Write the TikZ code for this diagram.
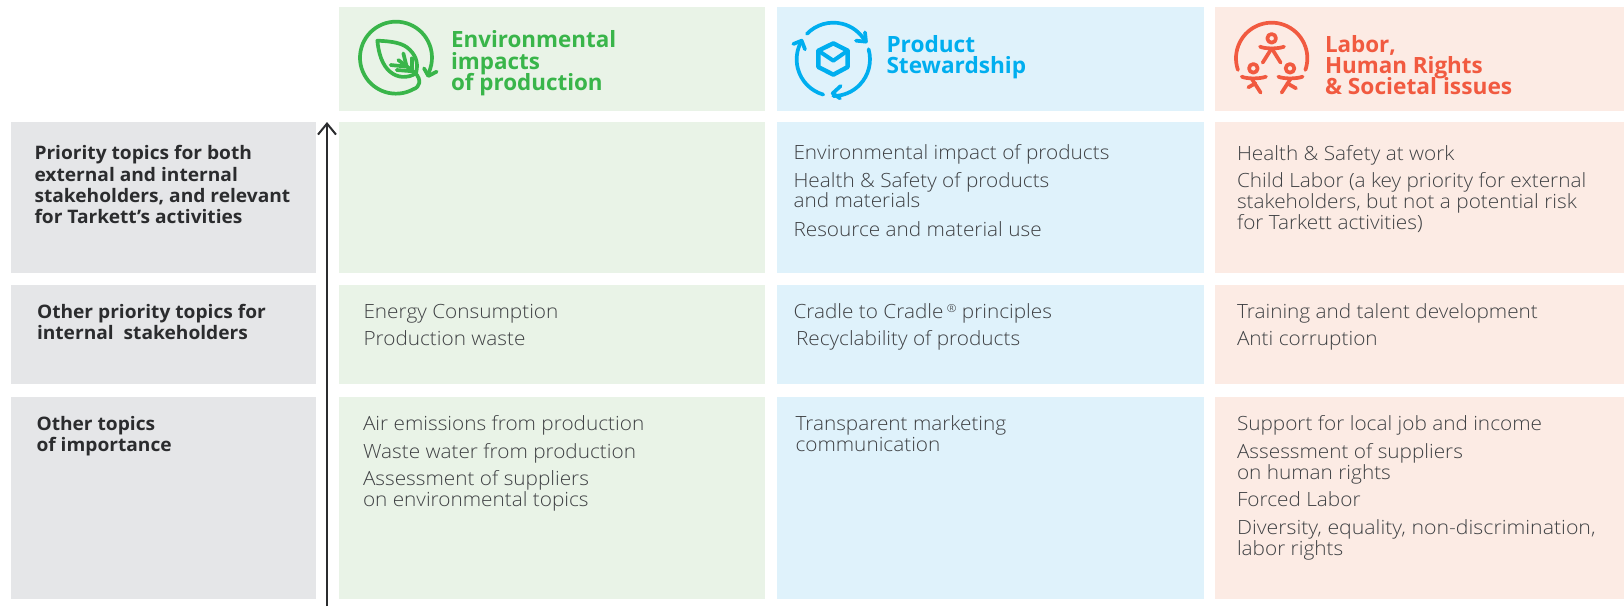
\documentclass[tikz,border=0pt]{standalone}
\usepackage{fontspec}
\usetikzlibrary{arrows.meta}
\setmainfont{Open Sans}[UprightFont=* Light,UprightFeatures={FakeStretch=1.06},BoldFont=* Bold,BoldFeatures={FakeStretch=1.03}]
\newfontfamily\headfont{Open Sans}[UprightFont=* Bold]
\definecolor{pgreen}{HTML}{E9F3E7}
\definecolor{pblue}{HTML}{DFF2FB}
\definecolor{pred}{HTML}{FCEBE4}
\definecolor{pgray}{HTML}{E5E6E8}
\definecolor{cgreen}{HTML}{39B54A}
\definecolor{cblue}{HTML}{00AEEF}
\definecolor{cred}{HTML}{F15A40}
\definecolor{ctext}{HTML}{3F4144}
\definecolor{cdark}{HTML}{2B2C2E}
\tikzset{
  panel/.style={fill=#1,draw=none},
  body/.style={anchor=base west,inner sep=0pt,outer sep=0pt,text=ctext,font=\fontsize{19.6}{22}\selectfont},
  rowlabel/.style={anchor=base west,inner sep=0pt,outer sep=0pt,text=cdark,font=\fontsize{18.6}{22}\selectfont\bfseries},
  head/.style={anchor=base west,inner sep=0pt,outer sep=0pt,text=#1,font=\fontsize{22.4}{24}\headfont},
  icon/.style={draw=#1,line width=3.7pt,line cap=round,line join=round,fill=none}
}
\newcommand{\pnl}[6]{\fill[panel=#2] (#3,#4) rectangle (#5,#6) node[inner sep=0pt,pos=.5] (#1) {};}
\newcommand{\bt}[4]{\node[body] (#1) at (#2,#3) {#4};}
\newcommand{\rl}[4]{\node[rowlabel] (#1) at (#2,#3) {#4};}
\begin{document}
\begin{tikzpicture}[x=1pt,y=-1pt]
\useasboundingbox (0,0) rectangle (1624,606);
% panels
\pnl{hg}{pgreen}{339}{7}{765}{111}
\pnl{hb}{pblue}{777}{7}{1203.5}{111}
\pnl{hr}{pred}{1215}{7}{1624}{111}
\pnl{l1}{pgray}{11}{122}{316}{273}
\pnl{l2}{pgray}{11}{285}{316}{384}
\pnl{l3}{pgray}{11}{397}{316}{599}
\pnl{g1}{pgreen}{339}{122}{765}{273}
\pnl{g2}{pgreen}{339}{285}{765}{384}
\pnl{g3}{pgreen}{339}{397}{765}{599}
\pnl{b1}{pblue}{777}{122}{1203.5}{273}
\pnl{b2}{pblue}{777}{285}{1203.5}{384}
\pnl{b3}{pblue}{777}{397}{1203.5}{599}
\pnl{r1}{pred}{1215}{122}{1624}{273}
\pnl{r2}{pred}{1215}{285}{1624}{384}
\pnl{r3}{pred}{1215}{397}{1624}{599}
% axis
\coordinate (axbot) at (327,606);
\coordinate (axtop) at (327,122);
\draw[line width=2pt,cdark,-{Straight Barb[length=11pt,width=18pt]}] (axbot) -- (axtop);
% headers
\node[head=cgreen] (h1a) at (451,47) {Environmental};
\node[head=cgreen] (h1b) at (451,69) {impacts};
\node[head=cgreen] (h1c) at (451,90) {of production};
\node[head=cblue] (h2a) at (886.5,52) {\scalebox{1.01}[1]{Product}};
\node[head=cblue] (h2b) at (886.5,73) {\scalebox{1.01}[1]{Stewardship}};
\node[head=cred] (h3a) at (1325,52) {Labor,};
\node[head=cred] (h3b) at (1325,73) {Human Rights};
\node[head=cred] (h3c) at (1325,94) {\scalebox{1.015}[1]{\& Societal issues}};
% green icon
\begin{scope}[shift={(320,0)},x=.3333pt,y=-.3333pt]
\draw[icon=cgreen] (228,173) ++(62:108) arc[start angle=62,end angle=385,radius=108];
\draw[icon=cgreen] (312,205) -- (325,228) -- (350,215);
\draw[icon=cgreen] (279,268) .. controls (300,262) and (306,240) .. (285,218) -- (235,180);
\draw[icon=cgreen] (288,220)
  .. controls (262,236) and (232,234) .. (210,215)
  .. controls (186,195) and (176,160) .. (172,122)
  .. controls (215,124) and (250,128) .. (270,150)
  .. controls (292,172) and (294,195) .. (288,220);
\draw[icon=cgreen] (250,160) -- (260,200);
\draw[icon=cgreen] (275,175) -- (275,205);
\draw[icon=cgreen] (212,195) -- (260,200);
\draw[icon=cgreen] (230,210) -- (280,214);
\end{scope}
% blue icon
\begin{scope}[shift={(750,0)},x=.3333pt,y=-.3333pt]
\draw[icon=cblue] (250,178) ++(224:110) arc[start angle=224,end angle=330,radius=110];
\draw[icon=cblue] (318,122) -- (348,125) -- (345,97);
\draw[icon=cblue] (250,178) ++(344:110) arc[start angle=344,end angle=450,radius=110];
\draw[icon=cblue] (272,258) -- (248,280) -- (270,295);
\draw[icon=cblue] (250,178) ++(106:110) arc[start angle=106,end angle=209,radius=110];
\draw[icon=cblue] (130,132) -- (155,122) -- (165,148);
\draw[icon=cblue,line width=4.4pt] (250,130) -- (293,152) -- (293,201) -- (250,224) -- (205,201) -- (205,152) -- cycle;
\draw[icon=cblue,line width=4pt] (205,152) -- (250,182) -- (293,152);
\end{scope}
% red icon
\begin{scope}[shift={(1170,0)},x=.3333pt,y=-.3333pt]
\draw[icon=cred] (305,175) ++(161:107) arc[start angle=161,end angle=379,radius=107];
\draw[icon=cred] (305,115) circle[radius=13];
\draw[icon=cred] (270,140) .. controls (285,147) and (325,147) .. (342,140);
\draw[icon=cred] (305,145) -- (278,188);
\draw[icon=cred] (305,145) -- (332,188);
\draw[icon=cred] (250,205) circle[radius=13];
\draw[icon=cred] (215,230) .. controls (230,237) and (270,237) .. (288,230);
\draw[icon=cred] (245,236) -- (272,278);
\draw[icon=cred] (256,250) -- (235,262);
\draw[icon=cred] (360,205) circle[radius=13];
\draw[icon=cred] (325,230) .. controls (340,237) and (380,237) .. (398,230);
\draw[icon=cred] (362,236) -- (335,278);
\draw[icon=cred] (352,250) -- (378,265);
\end{scope}
% row labels
\rl{la}{34.5}{159}{Priority topics for both}
\rl{lb}{34.5}{181}{external and internal}
\rl{lc}{34.5}{202}{stakeholders, and relevant}
\rl{ld}{34.5}{223}{for Tarkett’s activities}
\rl{le}{37}{318}{Other priority topics for}
\rl{lf}{37}{339}{internal\ \ stakeholders}
\rl{lg}{36.5}{430}{Other topics}
\rl{lh}{36.5}{451}{of importance}
% green
\bt{ga}{363.5}{318}{Energy Consumption}
\bt{gb}{363.5}{345}{Production waste}
\bt{gc}{363}{430}{Air emissions from production}
\bt{gd}{363}{458}{Waste water from production}
\bt{ge}{363}{485}{Assessment of suppliers}
\bt{gf}{363}{506}{on environmental topics}
% blue
\bt{ba}{793.5}{159}{Environmental impact of products}
\bt{bb}{793.5}{187}{Health \& Safety of products}
\bt{bc}{793.5}{207.5}{and materials}
\bt{bd}{793.5}{236}{Resource and material use}
\bt{be}{793.5}{318}{Cradle to Cradle\,\raisebox{.55ex}{\fontsize{11}{12}\selectfont ®} principles}
\bt{bf}{796}{345}{Recyclability of products}
\bt{bg}{795.5}{430}{Transparent marketing}
\bt{bh}{795.5}{451}{communication}
% red
\bt{ra}{1237}{160}{Health \& Safety at work}
\bt{rb}{1237}{187.5}{Child Labor (a key priority for external}
\bt{rc}{1237}{208.5}{stakeholders, but not a potential risk}
\bt{rd}{1237}{229}{for Tarkett activities)}
\bt{re}{1237}{318}{Training and talent development}
\bt{rf}{1237}{345}{Anti corruption}
\bt{rg}{1237}{430}{Support for local job and income}
\bt{rh}{1237}{458}{Assessment of suppliers}
\bt{ri}{1237}{479}{on human rights}
\bt{rj}{1237}{506}{Forced Labor}
\bt{rk}{1237}{534}{\scalebox{1.025}[1]{Diversity, equality, non-discrimination,}}
\bt{rl}{1237}{555}{labor rights}
\end{tikzpicture}
\end{document}
